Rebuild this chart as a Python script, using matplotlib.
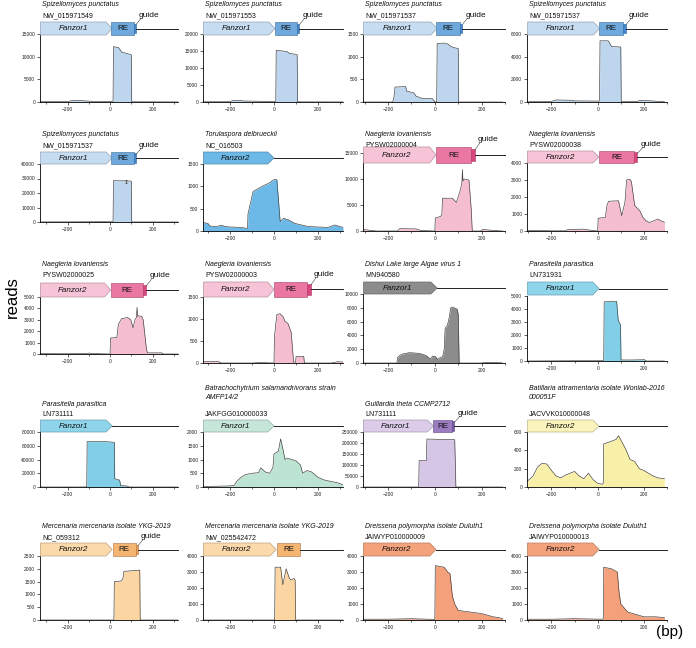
import matplotlib
matplotlib.use('Agg')
import matplotlib.pyplot as plt
from matplotlib.patches import Polygon, Rectangle
import matplotlib.colors as mcolors

plt.rcParams['font.family'] = ['Liberation Sans', 'DejaVu Sans']

# ---------------- data ----------------
species = [
    "Spizellomyces punctatus", "Spizellomyces punctatus", "Spizellomyces punctatus", "Spizellomyces punctatus",
    "Spizellomyces punctatus", "Torulaspora delbrueckii", "Naegleria lovaniensis", "Naegleria lovaniensis",
    "Naegleria lovaniensis", "Naegleria lovaniensis", "Dishui Lake large Algae virus 1", "Parasitella parasitica",
    "Parasitella parasitica", "Batrachochytrium salamandrivorans strain\nAMFP14/2", "Guillardia theta CCMP2712",
    "Batillaria attramentaria isolate Wonlab-2016\n000051F",
    "Mercenaria mercenaria isolate YKG-2019", "Mercenaria mercenaria isolate YKG-2019",
    "Dreissena polymorpha isolate Duluth1", "Dreissena polymorpha isolate Duluth1",
]
accession = [
    "NW_015971549", "NW_015971553", "NW_015971537", "NW_015971537",
    "NW_015971537", "NC_016503", "PYSW02000004", "PYSW02000038",
    "PYSW02000025", "PYSW02000003", "MN940580", "LN731931",
    "LN731111", "JAKFGG010000033", "LN731111", "JACVVK010000048",
    "NC_059312", "NW_025542472", "JAIWYP010000009", "JAIWYP010000013",
]
gene_names = ["Fanzor1"] * 5 + ["Fanzor2"] * 4 + ["Fanzor2", "Fanzor1", "Fanzor1",
              "Fanzor1", "Fanzor1", "Fanzor1", "Fanzor2", "Fanzor2", "Fanzor2", "Fanzor2", "Fanzor2"]
y_max = [15000, 20000, 1500, 6000, 40000, 1500, 15000, 4000, 5000, 1500, 10000, 5000,
         80000, 2000, 250000, 600, 2500, 4000, 4000, 4000]
y_step = [5000, 5000, 500, 2000, 10000, 500, 5000, 1000, 1000, 500, 2000, 1000,
          20000, 500, 50000, 200, 500, 1000, 1000, 1000]
# gene features (bp): arrow tip, RE start, RE end, guide end (None = absent)
gene_tip = [10, 5, 5, 3, 10, 0, 0, 0, 3, 0, 5, 0, 10, 0, -10, 0, 10, 10, 0, 0]
re_start = [5, 3, 0, 0, 5, None, 0, 0, 3, 0, None, None, None, None, -13, None, 12, 12, None, None]
re_end = [112, 105, 100, 103, 112, None, 146, 149, 156, 150, None, None, None, None, 67, None, 120, 120, None, None]
guide_end = [122, 115, 110, 115, 122, None, 163, 163, 171, 167, None, None, None, None, 77, None, 132, None, None, None]

p01_x = [-330, -200, -180, -150, -110, -60, 0, 14, 16, 40, 48, 55, 95, 100, 102, 200, 320]
p01_y = [60, 80, 300, 350, 220, 100, 80, 100, 12200, 12000, 11500, 11000, 10500, 10400, 50, 30, 20]
p02_x = [-322, -200, -185, -150, -140, -50, 5, 8, 10, 40, 60, 70, 100, 105, 107, 200, 313]
p02_y = [60, 80, 500, 500, 300, 200, 150, 200, 15200, 15000, 14800, 14300, 14000, 13900, 50, 30, 20]
p03_x = [-307, -180, -175, -170, -125, -120, -90, -80, -55, -10, -2, 0, 8, 10, 40, 55, 70, 90, 100, 102, 200, 290]
p03_y = [0, 0, 100, 330, 340, 240, 200, 130, 80, 75, 20, 0, 0, 1290, 1300, 1280, 1220, 1190, 1180, 0, 0, 0]
p04_x = [-306, -200, -180, -110, -100, 0, 8, 10, 45, 52, 60, 100, 102, 170, 185, 230, 289]
p04_y = [20, 50, 180, 150, 100, 80, 80, 5400, 5400, 5200, 4900, 4850, 50, 50, 150, 100, 20]
p05_x = [-330, -200, -100, -20, 0, 14, 16, 60, 100, 102, 200, 320]
p05_y = [50, 100, 150, 200, 150, 150, 28500, 28400, 28200, 50, 30, 20]
p06_x = [-322, -300, -290, -260, -240, -220, -200, -150, -125, -120, -118, -95, -68, -54, -24, 0, 13,
         28, 43, 65, 95, 155, 245, 275, 313]
p06_y = [190, 170, 110, 100, 130, 100, 90, 80, 60, 60, 380, 885, 960, 1000, 1070, 1150, 1150,
         210, 285, 250, 170, 100, 80, 135, 80]
p07_x = [-307, -280, -250, -160, -150, -80, -60, -2, 0, 2, 25, 30, 33, 75, 92, 110, 116, 118, 120, 125,
         146, 156, 160, 195, 205, 250, 290]
p07_y = [300, 150, 0, 0, 450, 400, 100, 0, 0, 2500, 2800, 3200, 6300, 6300, 5500, 8000, 9500, 11800,
         9600, 10000, 9800, 4000, 0, 0, 300, 100, 0]
p08_x = [-306, -200, -140, -130, -60, -40, -2, 0, 2, 33, 40, 47, 90, 104, 118, 125, 139, 146, 160, 182,
         196, 210, 224, 260, 274, 289]
p08_y = [40, 10, 10, 80, 110, 60, 0, 0, 750, 800, 1500, 1750, 1780, 900, 1700, 3000, 3050, 2900,
         1500, 1200, 800, 600, 500, 700, 600, 520]
p09_x = [-330, -200, -120, -100, -80, -2, 0, 2, 32, 39, 54, 83, 98, 108, 117, 124, 127, 130, 134,
         149, 156, 171, 176, 244, 250, 320]
p09_y = [30, 20, 40, 80, 40, 0, 0, 1400, 1450, 2600, 3100, 3200, 3000, 2300, 3000, 3200, 4100, 3300,
         3350, 3300, 3000, 500, 100, 100, 0, 0]
p10_x = [-322, -250, -240, -100, -60, -2, 0, 2, 13, 27, 42, 49, 63, 78, 89, 98, 100, 135, 138, 260,
         290, 313]
p10_y = [30, 30, 0, 0, 10, 0, 0, 600, 1100, 1120, 1050, 950, 900, 700, 20, 20, 150, 150, 0, 0, 30, 20]
p11_x = [-307, -162, -159, -150, -138, -109, -67, -38, -24, -17, -10, 4, 11, 18, 33, 40, 44, 54, 61,
         68, 75, 96, 100, 104, 200, 217, 260, 290]
p11_y = [0, 0, 800, 1100, 1300, 1500, 1400, 1100, 700, 600, 1000, 900, 500, 700, 900, 2000, 5000,
         5500, 6500, 8000, 8100, 7800, 7000, 0, 0, 100, 100, 0]
p12_x = [-306, -100, 20, 26, 28, 60, 82, 89, 96, 99, 101, 150, 203, 210, 289]
p12_y = [0, 20, 20, 0, 4550, 4600, 4580, 3100, 2900, 2700, 80, 80, 100, 0, 0]
p13_x = [-330, -150, -120, -110, -108, -20, 0, 20, 22, 45, 50, 80, 90, 200, 320]
p13_y = [0, 0, 100, 200, 66000, 66000, 65500, 65000, 12000, 10000, 2000, 1500, 0, 0, 0]
p14_x = [-322, -250, -200, -180, -170, -150, -130, -100, -70, -60, -40, -20, -5, 0, 20, 30, 40, 50, 60, 80,
         100, 120, 130, 150, 170, 200, 230, 260, 290, 313]
p14_y = [20, 30, 40, 60, 200, 350, 450, 500, 520, 700, 550, 500, 700, 1200, 1300, 1750, 1400, 1000, 1050,
         1000, 950, 800, 500, 600, 550, 350, 250, 200, 150, 80]
p15_x = [-307, -80, -69, -67, -36, -34, 85, 88, 90, 290]
p15_y = [0, 0, 0, 120000, 120000, 218000, 215000, 100000, 0, 0]
p16_x = [-306, -280, -260, -240, -220, -200, -180, -160, -140, -120, -100, -80, -60, -40, -20, 0, 20,
         24, 26, 60, 80, 90, 120, 140, 160, 180, 200, 220, 240, 260, 289]
p16_y = [60, 120, 220, 260, 250, 180, 120, 100, 130, 150, 170, 120, 90, 150, 80, 40, 30,
         40, 470, 500, 520, 560, 420, 300, 280, 200, 180, 150, 120, 100, 90]
p17_x = [-330, -100, 0, 18, 20, 50, 60, 65, 140, 142, 200, 320]
p17_y = [0, 0, 0, 0, 1500, 1520, 1600, 1900, 1950, 0, 0, 0]
p18_x = [-322, -100, 0, 3, 5, 30, 40, 55, 70, 78, 90, 96, 98, 200, 313]
p18_y = [0, 0, 0, 0, 3300, 3300, 2200, 3200, 2600, 2500, 2600, 2500, 0, 0, 0]
p19_x = [-307, -200, -100, -5, 0, 2, 40, 55, 65, 75, 85, 100, 150, 200, 250, 290]
p19_y = [50, 50, 80, 40, 40, 3400, 3300, 3000, 2900, 1500, 1000, 600, 500, 400, 200, 100]
p20_x = [-306, -200, -100, 20, 24, 26, 60, 85, 92, 100, 130, 200, 250, 289]
p20_y = [50, 50, 80, 50, 60, 3300, 3200, 3000, 1800, 1000, 500, 200, 200, 150]

xs = [p01_x, p02_x, p03_x, p04_x, p05_x, p06_x, p07_x, p08_x, p09_x, p10_x,
      p11_x, p12_x, p13_x, p14_x, p15_x, p16_x, p17_x, p18_x, p19_x, p20_x]
ys = [p01_y, p02_y, p03_y, p04_y, p05_y, p06_y, p07_y, p08_y, p09_y, p10_y,
      p11_y, p12_y, p13_y, p14_y, p15_y, p16_y, p17_y, p18_y, p19_y, p20_y]
err_x = 75
err_y = 28000
err_size = 1200

# ---------------- styles ----------------
gene_col = ['#c6dcf1'] * 5 + ['#6cb8e6'] + ['#f7c3d6'] * 4 + ['#8c8c8c', '#8ed4ea', '#8ed4ea',
            '#c5e6d8', '#dcccea', '#faf3bb', '#fcd9aa', '#fcd9aa', '#f4a27c', '#f4a27c']
re_col = ['#6fa8dc'] * 5 + [None] + ['#ea77a2'] * 4 + [None] * 4 + ['#9c7cc0', None,
          '#f4b472', '#f4b472', None, None]
guide_col = ['#3f86cf'] * 5 + [None] + ['#d9467e'] * 4 + [None] * 4 + ['#7a58a8', None,
             '#e89a50', '#e89a50', None, None]
fill_col = ['#bdd6ee'] * 5 + ['#6cb8e6'] + ['#f5bdd0'] * 4 + ['#8c8c8c', '#80cfe6', '#80cfe6',
            '#bde3d2', '#d6c6e5', '#f8f0a8', '#fcd6a2', '#fcd6a2', '#f4a07a', '#f4a07a']

col_left = [40, 203, 363, 527]
col_right = [178, 343, 505, 667]
col_xlim = [(-330, 320), (-322, 313), (-307, 290), (-306, 289)]
ax_top = [34, 34, 34, 34, 164, 164, 153, 163, 297, 297, 294, 296,
          432, 432, 432, 432, 556, 556, 556, 556]
ax_bot = [102, 102, 102, 102, 222, 231, 231, 231, 354, 363, 363, 361,
          487, 487, 487, 487, 620, 620, 620, 620]
ban_top = [22, 22, 22, 22, 152, 152, 147, 151, 283, 282, 282, 282,
           420, 420, 420, 420, 543, 543, 543, 543]
ban_bot = [35, 35, 35, 35, 164, 164, 163, 163, 297, 297, 294, 295,
           432, 432, 432, 432, 556, 556, 556, 556]
title_y = [5, 5, 5, 5, 135, 135, 135, 135, 265, 265, 265, 265,
           404, 393, 404, 393, 527, 527, 527, 527]

W, H = 696, 648
fig = plt.figure(figsize=(W / 100, H / 100), dpi=100)


def darker(c, f=0.7):
    r, g, b = mcolors.to_rgb(c)
    return (r * f, g * f, b * f)


def px_axes(l, t, r, b):
    return fig.add_axes([l / W, 1 - b / H, (r - l) / W, (b - t) / H])


for i in range(20):
    row, col = divmod(i, 4)
    xl = col_xlim[col]
    L, R = col_left[col], col_right[col]

    # --- data axes
    ax = px_axes(L, ax_top[i], R, ax_bot[i])
    ax.fill_between(xs[i], ys[i], 0, color=fill_col[i], lw=0)
    ax.plot(xs[i], ys[i], color='#3a3a3a', lw=0.45)
    if i == 4:
        ax.errorbar([err_x], [err_y], yerr=[err_size], color='#3a3a3a', lw=0.5, capsize=1, capthick=0.5)
    ax.set_xlim(xl)
    ax.set_ylim(0, y_max[i])
    ax.set_yticks(list(range(0, y_max[i] + 1, y_step[i])))
    ax.set_xticks([-200, 0, 200])
    ax.set_xticks([-300, -100, 100, 300], minor=True)
    ax.tick_params(labelsize=3.5, length=2, width=0.5, pad=1.5, colors='#222222')
    ax.tick_params(which='minor', length=1.3, width=0.4)
    for s in ['top', 'right']:
        ax.spines[s].set_visible(False)
    for s in ['left', 'bottom']:
        ax.spines[s].set_linewidth(0.6)
    ax.patch.set_alpha(0)

    # --- banner axes
    bax = px_axes(L, ban_top[i], R, ban_bot[i])
    bax.set_xlim(xl)
    bax.set_ylim(0, 1)
    bax.axis('off')
    x0 = xl[0] + 2
    tip = gene_tip[i]
    alen = 0.045 * (xl[1] - xl[0])
    gc = gene_col[i]
    bax.add_patch(Polygon([(x0, 0), (tip - alen, 0), (tip, 0.5), (tip - alen, 1), (x0, 1)],
                          closed=True, fc=gc, ec=darker(gc, 0.75), lw=0.5, clip_on=False))
    bax.text((x0 + tip - alen) / 2, 0.47, gene_names[i], style='italic', fontsize=5.8,
             ha='center', va='center', color='#111111')
    line_start = tip
    if re_start[i] is not None:
        rc = re_col[i]
        bax.add_patch(Rectangle((re_start[i], 0), re_end[i] - re_start[i], 1, fc=rc,
                                ec=darker(rc, 0.75), lw=0.5, clip_on=False))
        bax.text((re_start[i] + re_end[i]) / 2, 0.47, "RE", fontsize=5.8, ha='center',
                 va='center', color='#111111')
        line_start = re_end[i]
        if guide_end[i] is not None:
            gdc = guide_col[i]
            bax.add_patch(Rectangle((re_end[i], 0.12), guide_end[i] - re_end[i], 0.76, fc=gdc,
                                    ec=darker(gdc, 0.8), lw=0.4, clip_on=False))
            line_start = guide_end[i]
            dx = 0.035 * (xl[1] - xl[0])
            bax.plot([guide_end[i], guide_end[i] + dx], [0.8, 1.25], color='#444444', lw=0.4,
                     clip_on=False)
            bax.text(guide_end[i] + dx * 0.6, 1.25, "guide", fontsize=6, ha='left', va='bottom',
                     color='#111111')
    bax.plot([line_start, xl[1]], [0.5, 0.5], color='#222222', lw=0.7, clip_on=False)

    # --- titles
    nlines = species[i].count('\n') + 1
    fig.text((L + 2) / W, 1 - title_y[i] / H, species[i], style='italic', fontsize=5,
             ha='left', va='center', linespacing=1.45, color='#111111')
    acc_y = title_y[i] + 10.5 * nlines
    fig.text((L + 2) / W, 1 - acc_y / H, accession[i], fontsize=5, ha='left', va='center',
             color='#111111')

fig.text(12 / W, 1 - 297 / H, "reads", rotation=90, fontsize=12, ha='center', va='center')
fig.text(670 / W, 1 - 632 / H, "(bp)", fontsize=11, ha='center', va='center')

fig.savefig('out.png', dpi=100)
